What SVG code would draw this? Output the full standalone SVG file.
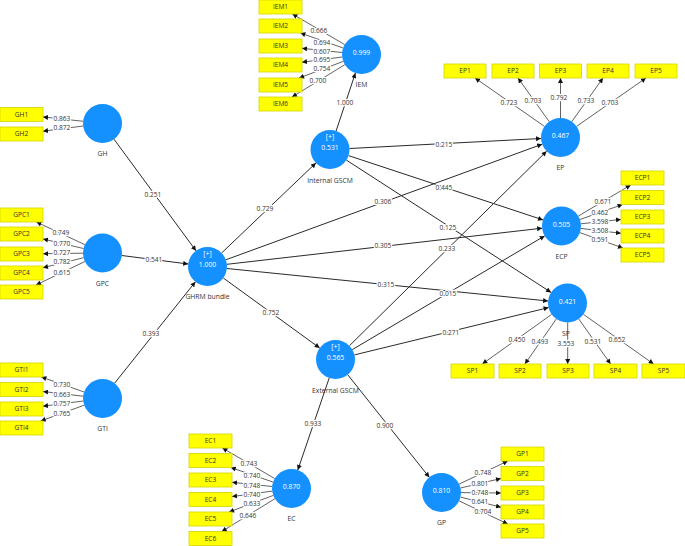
<svg xmlns="http://www.w3.org/2000/svg" width="685" height="546" viewBox="0 0 685 546">
<style>
text{font-family:"Open Sans","Noto Sans","DejaVu Sans",sans-serif;font-size:6.6px;text-anchor:middle}
.c{stroke:#3a3a3a;stroke-width:0.8;fill:none;marker-end:url(#ah)}
.s{stroke:#2a2a2a;stroke-width:1;fill:none;marker-end:url(#ah)}
.lv{fill:#1491ff}
.v{fill:#ffffff;font-size:6.8px}
.n{fill:#333333;font-size:6.8px}
.ind rect{fill:#ffff00;stroke:#d4d400;stroke-width:0.8}
.ind text{fill:#333333}
.l{fill:#333333;stroke:#ffffff;stroke-width:2.5;paint-order:stroke;stroke-linejoin:round}
</style>
<defs>
<marker id="ah" viewBox="0 0 10 10" refX="10" refY="5" markerWidth="5.5" markerHeight="5" markerUnits="userSpaceOnUse" orient="auto"><path d="M0,0 L10,5 L0,10 z" fill="#111111"/></marker>
</defs>
<rect width="685" height="546" fill="#ffffff"/>
<g id="connectors">
<line class="c" x1="83.1" y1="121.3" x2="43" y2="116.9"/>
<line class="c" x1="83.2" y1="126" x2="43" y2="131.2"/>
<line class="c" x1="84.9" y1="244.7" x2="36.4" y2="222"/>
<line class="c" x1="83.5" y1="248.5" x2="43" y2="239"/>
<line class="c" x1="83" y1="253.2" x2="43" y2="253.7"/>
<line class="c" x1="83.6" y1="257.7" x2="43" y2="267.7"/>
<line class="c" x1="84.9" y1="261.5" x2="36" y2="285"/>
<line class="c" x1="84.1" y1="392" x2="41.4" y2="377"/>
<line class="c" x1="83.1" y1="396.2" x2="43" y2="391.5"/>
<line class="c" x1="83.1" y1="401" x2="43" y2="406.2"/>
<line class="c" x1="84.2" y1="405.2" x2="40.7" y2="421"/>
<line class="c" x1="344.7" y1="44.6" x2="292.4" y2="14"/>
<line class="c" x1="343.1" y1="48" x2="300.4" y2="33"/>
<line class="c" x1="342.1" y1="52.5" x2="302" y2="48.3"/>
<line class="c" x1="342.2" y1="57" x2="302" y2="62.2"/>
<line class="c" x1="343.3" y1="61.4" x2="299.1" y2="78"/>
<line class="c" x1="344.8" y1="64.7" x2="292" y2="97"/>
<line class="c" x1="544.5" y1="126.4" x2="475" y2="78"/>
<line class="c" x1="549.2" y1="121.6" x2="518" y2="78"/>
<line class="c" x1="560.5" y1="118" x2="560.5" y2="78"/>
<line class="c" x1="571.8" y1="121.6" x2="603" y2="78"/>
<line class="c" x1="576.5" y1="126.4" x2="646" y2="78"/>
<line class="c" x1="578.3" y1="216.1" x2="630.7" y2="185"/>
<line class="c" x1="579.9" y1="219.5" x2="622.6" y2="204.5"/>
<line class="c" x1="580.9" y1="223.8" x2="621" y2="219.4"/>
<line class="c" x1="580.9" y1="228.4" x2="621" y2="233.3"/>
<line class="c" x1="579.8" y1="232.6" x2="623" y2="248"/>
<line class="c" x1="551.6" y1="314.4" x2="482.3" y2="364"/>
<line class="c" x1="556.3" y1="319" x2="524.9" y2="364"/>
<line class="c" x1="567.7" y1="322.5" x2="567.7" y2="364"/>
<line class="c" x1="578.8" y1="319" x2="610.6" y2="364"/>
<line class="c" x1="583.4" y1="314.3" x2="653.6" y2="364"/>
<line class="c" x1="274.7" y1="478.6" x2="222.4" y2="448"/>
<line class="c" x1="273.1" y1="482.1" x2="230.8" y2="467.5"/>
<line class="c" x1="272.1" y1="486.5" x2="232" y2="482.3"/>
<line class="c" x1="272.2" y1="491.1" x2="232" y2="496.6"/>
<line class="c" x1="273.3" y1="495.4" x2="229.1" y2="512"/>
<line class="c" x1="274.9" y1="498.7" x2="221.8" y2="531.5"/>
<line class="c" x1="459.1" y1="484.1" x2="507.8" y2="461"/>
<line class="c" x1="460.5" y1="488" x2="501" y2="478.5"/>
<line class="c" x1="461" y1="492.6" x2="501" y2="493"/>
<line class="c" x1="460.5" y1="497.1" x2="501" y2="507.2"/>
<line class="c" x1="459.1" y1="500.9" x2="507.8" y2="524"/>
<line class="s" x1="114" y1="139.2" x2="196" y2="250.8"/>
<line class="s" x1="121.8" y1="255.5" x2="188.2" y2="264"/>
<line class="s" x1="114.6" y1="383.2" x2="195.4" y2="281.8"/>
<line class="s" x1="221.6" y1="253" x2="315.9" y2="163"/>
<line class="s" x1="223.3" y1="278" x2="319.7" y2="348"/>
<line class="s" x1="225.8" y1="259.8" x2="542.2" y2="144.2"/>
<line class="s" x1="226.9" y1="264.3" x2="542.1" y2="228.2"/>
<line class="s" x1="226.9" y1="268.5" x2="548.1" y2="301"/>
<line class="s" x1="336.1" y1="131" x2="355.4" y2="73"/>
<line class="s" x1="349.5" y1="148.5" x2="541" y2="138.5"/>
<line class="s" x1="348.5" y1="155.6" x2="543" y2="219.9"/>
<line class="s" x1="346.4" y1="160.1" x2="551.1" y2="292.4"/>
<line class="s" x1="349.4" y1="345.8" x2="546.6" y2="151.2"/>
<line class="s" x1="352.3" y1="349.6" x2="544.7" y2="235.9"/>
<line class="s" x1="354.4" y1="354.9" x2="548.6" y2="307.6"/>
<line class="s" x1="329.2" y1="378" x2="297.8" y2="470"/>
<line class="s" x1="347.7" y1="374.7" x2="429.3" y2="477.3"/>
<g id="connector-labels">
<text class="l" x="62" y="120.5">0.863</text>
<text class="l" x="62" y="130">0.872</text>
<text class="l" x="61" y="234.5">0.749</text>
<text class="l" x="62" y="245.5">0.770</text>
<text class="l" x="62" y="254.5">0.727</text>
<text class="l" x="62" y="263.5">0.782</text>
<text class="l" x="62" y="274.5">0.615</text>
<text class="l" x="62" y="386.5">0.730</text>
<text class="l" x="62" y="396.5">0.663</text>
<text class="l" x="62" y="405.5">0.757</text>
<text class="l" x="62" y="415.5">0.765</text>
<text class="l" x="319" y="32.5">0.666</text>
<text class="l" x="322" y="44.5">0.694</text>
<text class="l" x="322" y="53.5">0.607</text>
<text class="l" x="322" y="61.5">0.695</text>
<text class="l" x="322" y="70.5">0.754</text>
<text class="l" x="318" y="82.5">0.700</text>
<text class="l" x="509" y="104.5">0.723</text>
<text class="l" x="533" y="102.5">0.703</text>
<text class="l" x="559" y="99.5">0.792</text>
<text class="l" x="586" y="102.5">0.733</text>
<text class="l" x="610" y="104.5">0.703</text>
<text class="l" x="603" y="203.5">0.671</text>
<text class="l" x="600" y="214.5">0.462</text>
<text class="l" x="600" y="223.5">3.598</text>
<text class="l" x="600" y="232.5">3.508</text>
<text class="l" x="600" y="241.5">0.591</text>
<text class="l" x="517" y="341.5">0.450</text>
<text class="l" x="540" y="343.5">0.493</text>
<text class="l" x="566" y="345.5">3.553</text>
<text class="l" x="593" y="343.5">0.531</text>
<text class="l" x="617" y="341.5">0.652</text>
<text class="l" x="249" y="465.5">0.743</text>
<text class="l" x="252" y="477.5">0.740</text>
<text class="l" x="252" y="487.5">0.748</text>
<text class="l" x="252" y="496.5">0.740</text>
<text class="l" x="252" y="505.5">0.633</text>
<text class="l" x="248" y="517.5">0.646</text>
<text class="l" x="483" y="474.5">0.748</text>
<text class="l" x="480" y="485.5">0.801</text>
<text class="l" x="480" y="494.5">0.748</text>
<text class="l" x="480" y="503.5">0.641</text>
<text class="l" x="483" y="513.5">0.704</text>
<text class="l" x="153" y="196.5">0.251</text>
<text class="l" x="154" y="261.5">0.541</text>
<text class="l" x="151" y="335.5">0.393</text>
<text class="l" x="265" y="210.5">0.729</text>
<text class="l" x="271" y="314.5">0.752</text>
<text class="l" x="383" y="203.5">0.306</text>
<text class="l" x="383" y="247.5">0.305</text>
<text class="l" x="386" y="286.5">0.315</text>
<text class="l" x="345" y="104.5">1.000</text>
<text class="l" x="444" y="146.5">0.215</text>
<text class="l" x="444" y="189.5">0.445</text>
<text class="l" x="448" y="229.5">0.125</text>
<text class="l" x="447" y="250.5">0.233</text>
<text class="l" x="448" y="295.5">0.015</text>
<text class="l" x="451" y="334.5">0.271</text>
<text class="l" x="313" y="425.5">0.933</text>
<text class="l" x="385" y="427.5">0.900</text>
</g>
</g>
<g id="GH"><circle class="lv" cx="102.5" cy="123.5" r="19.5"/><text class="n" x="102.5" y="156">GH</text></g>
<g id="GPC"><circle class="lv" cx="102.5" cy="253" r="19.5"/><text class="n" x="102.5" y="285.5">GPC</text></g>
<g id="GTI"><circle class="lv" cx="102.5" cy="398.5" r="19.5"/><text class="n" x="102.5" y="431">GTI</text></g>
<g id="GHRM"><circle class="lv" cx="207.5" cy="266.5" r="19.5"/><text class="v" x="207.5" y="256">[+]</text><text class="v" x="207.5" y="267">1.000</text><text class="n" x="207.5" y="299">GHRM bundle</text></g>
<g id="InternalGSCM"><circle class="lv" cx="330" cy="149.5" r="19.5"/><text class="v" x="330" y="139">[+]</text><text class="v" x="330" y="150">0.531</text><text class="n" x="330" y="182.5">Internal GSCM</text></g>
<g id="IEM"><circle class="lv" cx="361.5" cy="54.5" r="19.5"/><text class="v" x="361.5" y="55">0.999</text><text class="n" x="361.5" y="86.5">IEM</text></g>
<g id="EP"><circle class="lv" cx="560.5" cy="137.5" r="19.5"/><text class="v" x="560.5" y="138">0.467</text><text class="n" x="560.5" y="169.5">EP</text></g>
<g id="ECP"><circle class="lv" cx="561.5" cy="226" r="19.5"/><text class="v" x="561.5" y="226.5">0.505</text><text class="n" x="561.5" y="258.5">ECP</text></g>
<g id="SP"><circle class="lv" cx="567.5" cy="303" r="19.5"/><text class="v" x="567.5" y="303.5">0.421</text><text class="n" x="566" y="335.5">SP</text></g>
<g id="ExternalGSCM"><circle class="lv" cx="335.5" cy="359.5" r="19.5"/><text class="v" x="335.5" y="349">[+]</text><text class="v" x="335.5" y="360">0.565</text><text class="n" x="335.5" y="392.5">External GSCM</text></g>
<g id="EC"><circle class="lv" cx="291.5" cy="488.5" r="19.5"/><text class="v" x="291.5" y="489">0.870</text><text class="n" x="291.5" y="521">EC</text></g>
<g id="GP"><circle class="lv" cx="441.5" cy="492.5" r="19.5"/><text class="v" x="441.5" y="493">0.810</text><text class="n" x="441.5" y="525">GP</text></g>
<g id="GH1" class="ind"><rect x="0" y="107.5" width="43" height="14"/><text x="21.5" y="116.8">GH1</text></g>
<g id="GH2" class="ind"><rect x="0" y="127" width="43" height="14"/><text x="21.5" y="136.3">GH2</text></g>
<g id="GPC1" class="ind"><rect x="0" y="208" width="43" height="14"/><text x="21.5" y="217.3">GPC1</text></g>
<g id="GPC2" class="ind"><rect x="0" y="227" width="43" height="14"/><text x="21.5" y="236.3">GPC2</text></g>
<g id="GPC3" class="ind"><rect x="0" y="247" width="43" height="14"/><text x="21.5" y="256.3">GPC3</text></g>
<g id="GPC4" class="ind"><rect x="0" y="266" width="43" height="14"/><text x="21.5" y="275.3">GPC4</text></g>
<g id="GPC5" class="ind"><rect x="0" y="285" width="43" height="14"/><text x="21.5" y="294.3">GPC5</text></g>
<g id="GTI1" class="ind"><rect x="0" y="363" width="43" height="14"/><text x="21.5" y="372.3">GTI1</text></g>
<g id="GTI2" class="ind"><rect x="0" y="382.5" width="43" height="14"/><text x="21.5" y="391.8">GTI2</text></g>
<g id="GTI3" class="ind"><rect x="0" y="402" width="43" height="14"/><text x="21.5" y="411.3">GTI3</text></g>
<g id="GTI4" class="ind"><rect x="0" y="421" width="43" height="14"/><text x="21.5" y="430.3">GTI4</text></g>
<g id="IEM1" class="ind"><rect x="259" y="0" width="43" height="14"/><text x="280.5" y="9.3">IEM1</text></g>
<g id="IEM2" class="ind"><rect x="259" y="19" width="43" height="14"/><text x="280.5" y="28.3">IEM2</text></g>
<g id="IEM3" class="ind"><rect x="259" y="39" width="43" height="14"/><text x="280.5" y="48.3">IEM3</text></g>
<g id="IEM4" class="ind"><rect x="259" y="58" width="43" height="14"/><text x="280.5" y="67.3">IEM4</text></g>
<g id="IEM5" class="ind"><rect x="259" y="78" width="43" height="14"/><text x="280.5" y="87.3">IEM5</text></g>
<g id="IEM6" class="ind"><rect x="259" y="97" width="43" height="14"/><text x="280.5" y="106.3">IEM6</text></g>
<g id="EP1" class="ind"><rect x="444" y="64" width="42" height="14"/><text x="465" y="73.3">EP1</text></g>
<g id="EP2" class="ind"><rect x="492" y="64" width="42" height="14"/><text x="513" y="73.3">EP2</text></g>
<g id="EP3" class="ind"><rect x="539.5" y="64" width="42" height="14"/><text x="560.5" y="73.3">EP3</text></g>
<g id="EP4" class="ind"><rect x="587" y="64" width="42" height="14"/><text x="608" y="73.3">EP4</text></g>
<g id="EP5" class="ind"><rect x="635" y="64" width="42" height="14"/><text x="656" y="73.3">EP5</text></g>
<g id="ECP1" class="ind"><rect x="621" y="171" width="43" height="14"/><text x="642.5" y="180.3">ECP1</text></g>
<g id="ECP2" class="ind"><rect x="621" y="190.5" width="43" height="14"/><text x="642.5" y="199.8">ECP2</text></g>
<g id="ECP3" class="ind"><rect x="621" y="210" width="43" height="14"/><text x="642.5" y="219.3">ECP3</text></g>
<g id="ECP4" class="ind"><rect x="621" y="229" width="43" height="14"/><text x="642.5" y="238.3">ECP4</text></g>
<g id="ECP5" class="ind"><rect x="621" y="248" width="43" height="14"/><text x="642.5" y="257.3">ECP5</text></g>
<g id="SP1" class="ind"><rect x="451" y="364" width="43" height="14"/><text x="472.5" y="373.3">SP1</text></g>
<g id="SP2" class="ind"><rect x="499" y="364" width="42" height="14"/><text x="520" y="373.3">SP2</text></g>
<g id="SP3" class="ind"><rect x="547" y="364" width="42" height="14"/><text x="568" y="373.3">SP3</text></g>
<g id="SP4" class="ind"><rect x="594" y="364" width="43" height="14"/><text x="615.5" y="373.3">SP4</text></g>
<g id="SP5" class="ind"><rect x="642" y="364" width="43" height="14"/><text x="663.5" y="373.3">SP5</text></g>
<g id="EC1" class="ind"><rect x="189" y="434" width="43" height="14"/><text x="210.5" y="443.3">EC1</text></g>
<g id="EC2" class="ind"><rect x="189" y="453.5" width="43" height="14"/><text x="210.5" y="462.8">EC2</text></g>
<g id="EC3" class="ind"><rect x="189" y="473" width="43" height="14"/><text x="210.5" y="482.3">EC3</text></g>
<g id="EC4" class="ind"><rect x="189" y="492.5" width="43" height="14"/><text x="210.5" y="501.8">EC4</text></g>
<g id="EC5" class="ind"><rect x="189" y="512" width="43" height="14"/><text x="210.5" y="521.3">EC5</text></g>
<g id="EC6" class="ind"><rect x="189" y="531.5" width="43" height="14"/><text x="210.5" y="540.8">EC6</text></g>
<g id="GP1" class="ind"><rect x="501" y="447" width="43" height="14"/><text x="522.5" y="456.3">GP1</text></g>
<g id="GP2" class="ind"><rect x="501" y="466.5" width="43" height="14"/><text x="522.5" y="475.8">GP2</text></g>
<g id="GP3" class="ind"><rect x="501" y="486" width="43" height="14"/><text x="522.5" y="495.3">GP3</text></g>
<g id="GP4" class="ind"><rect x="501" y="505" width="43" height="14"/><text x="522.5" y="514.3">GP4</text></g>
<g id="GP5" class="ind"><rect x="501" y="524" width="43" height="14"/><text x="522.5" y="533.3">GP5</text></g>
</svg>
